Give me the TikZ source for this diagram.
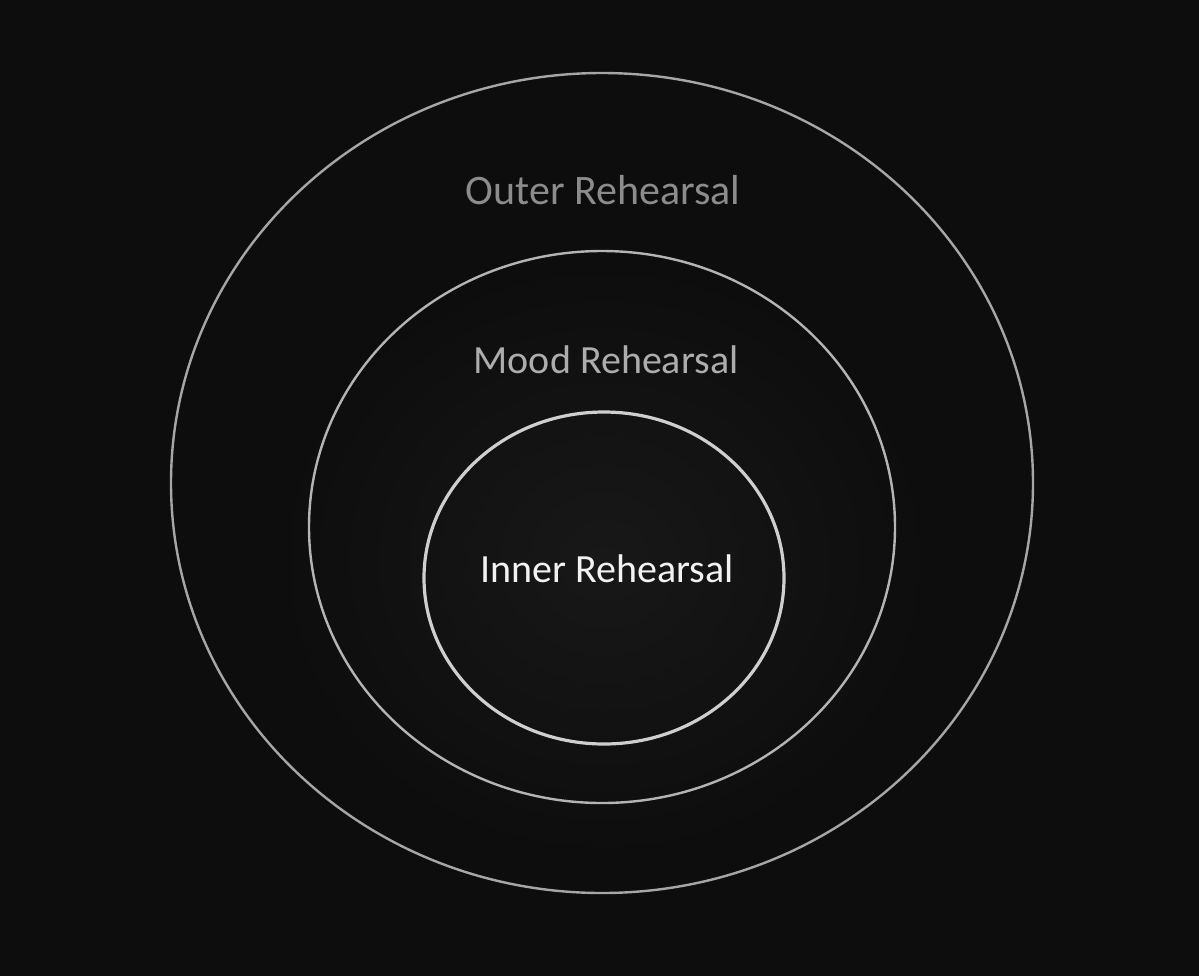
\documentclass[tikz,border=0pt]{standalone}
\usepackage{fontspec}
\setmainfont{Carlito}
\usepackage{tikz}
\usetikzlibrary{shapes.geometric}
\definecolor{bg}{HTML}{0D0D0D}
\definecolor{glow}{HTML}{181818}
\definecolor{outerline}{HTML}{A6A6A6}
\definecolor{moodline}{HTML}{B4B4B4}
\definecolor{innerline}{HTML}{CFCFCF}
\tikzstyle{ring} = [draw,ellipse,line width=1.2pt,inner sep=0pt]
\tikzstyle{lbl} = [font=\fontsize{20}{24}\selectfont,inner sep=0pt]

\begin{document}
\begin{tikzpicture}[x=0.5pt,y=-0.5pt]

  % background
  \fill[bg] (0,0) rectangle (1199,976);
  \useasboundingbox (0,0) rectangle (1199,976);
  \shade[inner color=glow,outer color=bg] (604,560) ellipse (330 and 300);

  % rings
  \node[ring,outerline,minimum width=431pt,minimum height=410pt] (outer) at (602,483) {};
  \node[ring,moodline,minimum width=293pt,minimum height=276pt] (mood) at (602,527) {};
  \node[ring,innerline,line width=1.6pt,minimum width=180pt,minimum height=166pt] (inner) at (604,578) {};

  % labels
  \node[lbl,font=\fontsize{21}{25}\selectfont,text=black!45!white] (outerlbl) at (603,190) {Outer Rehearsal};
  \node[lbl,text=black!32!white] (moodlbl) at (606,360) {Mood Rehearsal};
  \node[lbl,text=black!5!white] (innerlbl) at (607,569) {Inner Rehearsal};

\end{tikzpicture}
\end{document}
